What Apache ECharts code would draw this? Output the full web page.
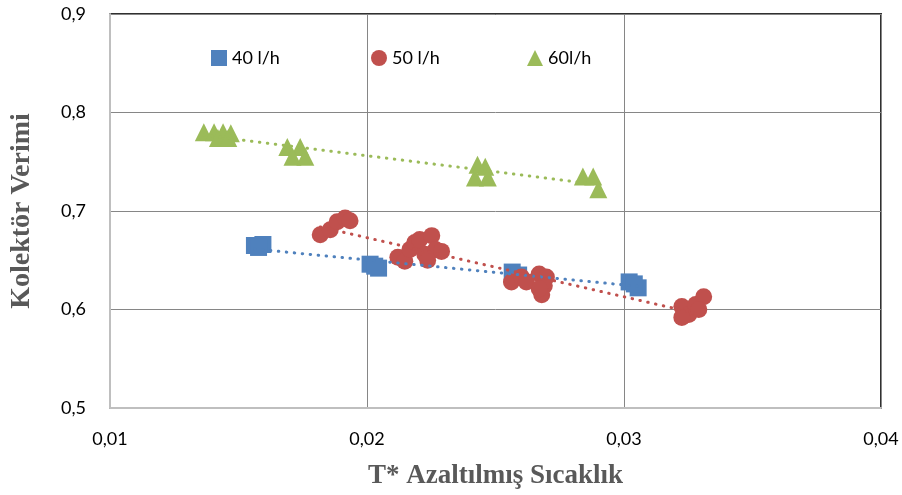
<!DOCTYPE html>
<html>
<head>
<meta charset="utf-8">
<script src="https://cdn.jsdelivr.net/npm/echarts@6/dist/echarts.min.js"></script>
<style>
  html, body { margin: 0; padding: 0; background: #fff; }
  #chart { width: 902px; height: 495px; }
</style>
</head>
<body>
<div id="chart"></div>
<script>
  // values: [T*, efficiency]
  const seriesNames = ['40 l/h', '50 l/h', '60l/h'];
  const xTicks = [0.01, 0.02, 0.03, 0.04];
  const yTicks = [0.5, 0.6, 0.7, 0.8, 0.9];

  const flow40 = [
    [0.01562, 0.665], [0.01595, 0.666], [0.01578, 0.663],
    [0.02012, 0.646], [0.02045, 0.642], [0.02030, 0.644],
    [0.02565, 0.638], [0.02590, 0.635],
    [0.03020, 0.628], [0.03055, 0.622], [0.03040, 0.626]
  ];
  const flow50 = [
    [0.01818, 0.676], [0.01857, 0.681], [0.01884, 0.689], [0.01915, 0.693], [0.01934, 0.690],
    [0.02120, 0.653], [0.02147, 0.649], [0.02167, 0.661], [0.02186, 0.668], [0.02205, 0.671],
    [0.02225, 0.656], [0.02252, 0.675], [0.02267, 0.661], [0.02290, 0.659], [0.02236, 0.650],
    [0.02562, 0.628], [0.02601, 0.633], [0.02620, 0.628], [0.02670, 0.636], [0.02698, 0.633],
    [0.02690, 0.624], [0.02680, 0.615], [0.02670, 0.621],
    [0.03225, 0.603], [0.03252, 0.595], [0.03279, 0.605], [0.03310, 0.613], [0.03291, 0.600], [0.03225, 0.592]
  ];
  const flow60 = [
    [0.01365, 0.780], [0.01405, 0.780], [0.01440, 0.780], [0.01470, 0.779],
    [0.01420, 0.774], [0.01460, 0.774],
    [0.01690, 0.765], [0.01740, 0.765], [0.01710, 0.755], [0.01760, 0.755],
    [0.02430, 0.747], [0.02460, 0.745], [0.02420, 0.734], [0.02470, 0.734],
    [0.02840, 0.735], [0.02880, 0.735], [0.02900, 0.722]
  ];

  const colors = ['#4F81BD', '#C0504D', '#9BBB59'];
  const symbols = ['rect', 'circle', 'triangle'];
  const sizes = [17, 17, 18];
  const data = [flow40, flow50, flow60];

  // least-squares trendline, drawn between min and max x like Excel
  function trend(pts) {
    let n = pts.length, sx = 0, sy = 0, sxx = 0, sxy = 0;
    pts.forEach(p => { sx += p[0]; sy += p[1]; sxx += p[0] * p[0]; sxy += p[0] * p[1]; });
    let b = (n * sxy - sx * sy) / (n * sxx - sx * sx);
    let a = (sy - b * sx) / n;
    let xs = pts.map(p => p[0]);
    let x0 = Math.min(...xs), x1 = Math.max(...xs);
    return [[x0, a + b * x0], [x1, a + b * x1]];
  }

  const fmt = v => v.toFixed(v < 0.1 ? 2 : 1).replace('.', ',');
  const font = 'Lato, "Open Sans", sans-serif';
  const titleFont = '"Liberation Serif", serif';

  let series = [];
  data.forEach((d, i) => {
    series.push({
      name: seriesNames[i] + ' trend',
      type: 'line',
      data: trend(d),
      symbol: 'none',
      silent: true,
      z: 3,
      lineStyle: { color: colors[i], width: 3, type: [0.5, 7.5], cap: 'round' }
    });
  });
  data.forEach((d, i) => {
    series.push({
      name: seriesNames[i],
      type: 'scatter',
      data: d,
      symbol: symbols[i],
      symbolSize: sizes[i],
      itemStyle: { color: colors[i], opacity: 1 },
      z: 2
    });
  });

  const legendLeft = [206, 366, 522];
  const chart = echarts.init(document.getElementById('chart'));
  chart.setOption({
    animation: false,
    grid: {
      left: 109, right: 21, top: 14, bottom: 86,
      show: true, borderColor: '#303030', borderWidth: 2, backgroundColor: 'transparent'
    },
    legend: seriesNames.map((name, i) => ({
      data: [{ name: name, icon: symbols[i] }],
      left: legendLeft[i],
      top: 44,
      itemWidth: 16,
      itemHeight: 16,
      itemGap: 6,
      selectedMode: false,
      textStyle: { fontFamily: font, fontSize: 18, color: '#000' }
    })),
    xAxis: {
      type: 'value',
      min: xTicks[0],
      max: xTicks[xTicks.length - 1],
      interval: 0.01,
      name: 'T* Azaltılmış Sıcaklık',
      nameLocation: 'middle',
      nameGap: 55,
      nameTextStyle: { fontFamily: titleFont, fontWeight: 'bold', fontSize: 27, color: '#595959' },
      axisLine: { lineStyle: { color: '#BFBFBF', width: 2 } },
      axisTick: { show: false },
      splitLine: { lineStyle: { color: '#868686', width: 1 } },
      axisLabel: { formatter: fmt, fontFamily: font, fontSize: 18, color: '#000', margin: 22 }
    },
    yAxis: {
      type: 'value',
      min: yTicks[0],
      max: yTicks[yTicks.length - 1],
      interval: 0.1,
      name: 'Kolektör Verimi',
      nameLocation: 'middle',
      nameGap: 74,
      nameTextStyle: { fontFamily: titleFont, fontWeight: 'bold', fontSize: 28, color: '#595959' },
      axisLine: { show: true, lineStyle: { color: '#BFBFBF', width: 2 } },
      axisTick: { show: false },
      splitLine: { lineStyle: { color: '#868686', width: 1 } },
      axisLabel: { formatter: fmt, fontFamily: font, fontSize: 18, color: '#000', margin: 24 }
    },
    series: series
  });
</script>
</body>
</html>
